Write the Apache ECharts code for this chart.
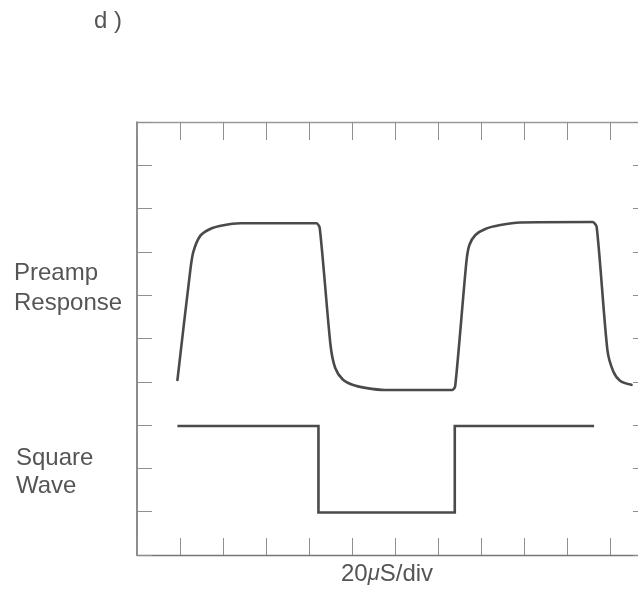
<!DOCTYPE html>
<html>
<head>
<meta charset="utf-8">
<script src="https://cdn.jsdelivr.net/npm/echarts@6/dist/echarts.min.js"></script>
<style>html,body{margin:0;padding:0;background:#fff;}#c{width:638px;height:591px;}</style>
</head>
<body>
<div id="c"></div>
<script>
// Time in divisions (20 µS/div), amplitude in vertical divisions
const preampX = [0.94, 1.24, 1.31, 1.47, 1.70, 1.98, 2.40, 4.17, 4.25, 4.50, 4.61, 4.78, 5.01, 5.31, 5.77, 7.33, 7.40, 7.66, 7.73, 7.87, 8.10, 8.45, 8.91, 10.59, 10.69, 10.94, 11.08, 11.24, 11.50];
const preampY = [4.04, 6.58, 7.00, 7.37, 7.53, 7.61, 7.66, 7.66, 7.55, 4.85, 4.32, 4.06, 3.93, 3.86, 3.81, 3.81, 3.90, 6.77, 7.16, 7.39, 7.53, 7.62, 7.68, 7.69, 7.58, 4.73, 4.23, 4.02, 3.93];
const squareX = [0.94, 4.22, 4.22, 7.39, 7.39, 10.63];
const squareY = [2.98, 2.98, 0.98, 0.98, 2.98, 2.98];
const xTicks = [0, 1, 2, 3, 4, 5, 6, 7, 8, 9, 10, 11, 12];
const yTicks = [0, 1, 2, 3, 4, 5, 6, 7, 8, 9, 10];

const zip = (xs, ys) => xs.map((x, i) => [x, ys[i]]);
const font = '"Liberation Sans", Arial, Helvetica, sans-serif';
const textColor = '#555555';

const chart = echarts.init(document.getElementById('c'), null, {renderer: 'canvas'});

function xAxisDef(pos, lineColor, tickLen) {
  return {
    type: 'value', gridIndex: 0, position: pos, min: xTicks[0], max: xTicks[xTicks.length - 1], interval: 1,
    axisLine: {show: true, onZero: false, lineStyle: {color: lineColor, width: 1.3}},
    axisTick: {show: true, inside: true, length: tickLen, lineStyle: {color: '#8f8f8f', width: 1}},
    axisLabel: {show: false}, splitLine: {show: false}
  };
}
function yAxisDef(pos, lineColor, tickLen) {
  return {
    type: 'value', gridIndex: 0, position: pos, min: yTicks[0], max: yTicks[yTicks.length - 1], interval: 1,
    axisLine: {show: true, onZero: false, lineStyle: {color: lineColor, width: 1.5}},
    axisTick: {show: true, inside: true, length: tickLen, lineStyle: {color: '#8f8f8f', width: 1}},
    axisLabel: {show: false}, splitLine: {show: false}
  };
}

chart.setOption({
  animation: false,
  backgroundColor: '#ffffff',
  grid: {left: 137, top: 122, width: 516, height: 433, containLabel: false, outerBoundsMode: 'none'},
  xAxis: [xAxisDef('bottom', '#767676', 17), xAxisDef('top', '#9a9a9a', 18)],
  yAxis: [yAxisDef('left', '#666666', 15), yAxisDef('right', '#8a8a8a', 20)],
  series: [
    {
      name: 'Preamp Response', type: 'line', data: zip(preampX, preampY),
      showSymbol: false, smooth: 0.25,
      lineStyle: {color: '#4a4a4a', width: 2.6, cap: 'round', join: 'round'}
    },
    {
      name: 'Square Wave', type: 'line', data: zip(squareX, squareY),
      showSymbol: false, smooth: false,
      lineStyle: {color: '#4a4a4a', width: 2.6, join: 'miter'}
    }
  ],
  graphic: [
    {type: 'text', left: 94, top: 9, style: {text: 'd )', font: '24px ' + font, fill: textColor}},
    {type: 'text', left: 14, top: 258, style: {text: 'Preamp\nResponse', font: '24px ' + font, lineHeight: 30, fill: textColor}},
    {type: 'text', left: 16, top: 444, style: {text: 'Square\nWave', font: '24px ' + font, lineHeight: 28, fill: textColor}},
    {type: 'text', left: 341, top: 562, style: {
      text: '20{mu|μ}S/div', font: '24px ' + font, fill: textColor,
      rich: {mu: {fontFamily: font, fontSize: 22, fontStyle: 'italic', fill: textColor}}
    }}
  ]
});
</script>
</body>
</html>
